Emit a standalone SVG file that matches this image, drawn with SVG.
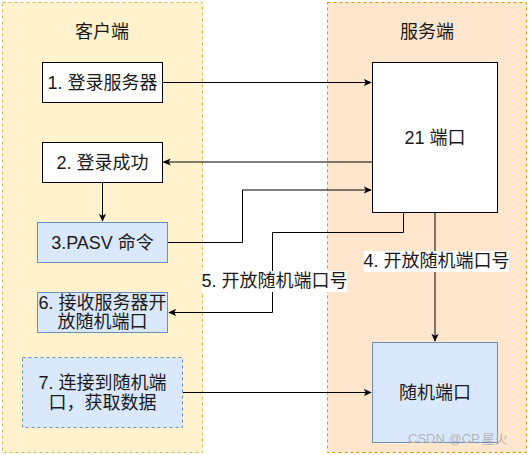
<svg xmlns="http://www.w3.org/2000/svg" width="530" height="455" viewBox="0 0 530 455">
<style>
text{font-family:"Liberation Sans","Noto Sans CJK SC",sans-serif;font-size:18px;fill:#1a1a1a;text-anchor:middle;dominant-baseline:central}
.plain{fill:#ffffff;stroke:#000000;stroke-width:1}
.blue{fill:#dae8fc;stroke:#6c8ebf;stroke-width:1}
.edge{fill:none;stroke:#000000;stroke-width:1}
.lbl{fill:#ffffff;stroke:none}
</style>
<defs>
<marker id="arr" viewBox="0 0 10 10" refX="9" refY="5" markerWidth="8" markerHeight="8" markerUnits="userSpaceOnUse" orient="auto">
<path d="M0,0.5 L10,5 L0,9.5 L2.5,5 Z" fill="#000"/>
</marker>
</defs>
<g id="client">
<rect x="2.5" y="2.5" width="200" height="450" fill="#fff2cc" stroke="#d6b656" stroke-dasharray="3 3"/>
<text x="102" y="32">客户端</text>
</g>
<g id="server">
<rect x="327.5" y="2.5" width="199" height="450" fill="#ffe6cc" stroke="#d79b00" stroke-dasharray="3 3"/>
<text x="427" y="32">服务端</text>
</g>
<g id="edges">
<path class="edge" d="M162.5,82.5 H371" marker-end="url(#arr)"/>
<path class="edge" d="M372,162 H163.5" marker-end="url(#arr)"/>
<path class="edge" d="M102.5,182.5 V221" marker-end="url(#arr)"/>
<path class="edge" d="M167.5,242.5 H242.5 V190 H371" marker-end="url(#arr)"/>
<path class="edge" d="M435,212.5 V341" marker-end="url(#arr)"/>
<path class="edge" d="M403.5,212.5 V232.5 H272.5 V312.5 H169" marker-end="url(#arr)"/>
<path class="edge" d="M182.5,392.5 H371" marker-end="url(#arr)"/>
<rect class="lbl" x="364" y="251" width="145" height="21"/>
<text x="436.5" y="261">4. 开放随机端口号</text>
<rect class="lbl" x="202" y="271" width="145" height="21"/>
<text x="274.5" y="281">5. 开放随机端口号</text>
</g>
<g id="n1">
<rect class="plain" x="42.5" y="62.5" width="120" height="40"/>
<text x="102.5" y="82.5">1. 登录服务器</text>
</g>
<g id="n2">
<rect class="plain" x="42.5" y="142.5" width="120" height="40"/>
<text x="102.5" y="162.5">2. 登录成功</text>
</g>
<g id="n3">
<rect class="blue" x="37.5" y="222.5" width="130" height="40"/>
<text x="102.5" y="242.5">3.PASV 命令</text>
</g>
<g id="n6">
<rect class="blue" x="37.5" y="292.5" width="130" height="40"/>
<text x="102.5" y="302.5">6. 接收服务器开</text>
<text x="102.5" y="322">放随机端口</text>
</g>
<g id="n7">
<rect class="blue" x="22.5" y="357.5" width="160" height="70" stroke-dasharray="3 3"/>
<text x="102.5" y="383">7. 连接到随机端</text>
<text x="102.5" y="403">口，获取数据</text>
</g>
<g id="port21">
<rect class="plain" x="372.5" y="62.5" width="125" height="150"/>
<text x="435" y="137.5">21 端口</text>
</g>
<g id="randport">
<rect class="blue" x="372.5" y="342.5" width="125" height="100"/>
<text x="435" y="392.5">随机端口</text>
</g>
<text x="408" y="438" style="font-size:13px;fill:#b4b4b4;text-anchor:start">CSDN @CP.星火</text>
</svg>
